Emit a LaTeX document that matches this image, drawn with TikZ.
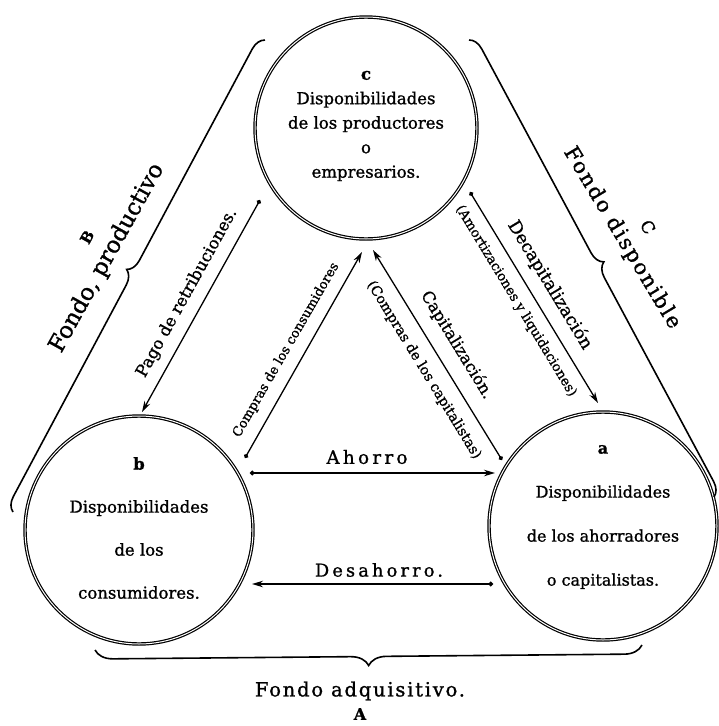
\documentclass[tikz,border=0pt]{standalone}
\usepackage{fontspec}
\usepackage{graphicx}
\setmainfont{DejaVu Serif}[FakeBold=1.1]
\newfontfamily\spaced{DejaVu Serif}[LetterSpace=18,FakeBold=1.1]
\newfontfamily\spacedb{DejaVu Serif}[LetterSpace=9,FakeBold=1.1]
\usetikzlibrary{arrows.meta,decorations.pathreplacing}
\newcommand{\fitw}[2]{\resizebox{#1}{!}{#2}}
\begin{document}
\begin{tikzpicture}[x=1pt,y=-1pt,
  fundo/.style={circle, draw, line width=1.2pt, double, double distance=1pt, minimum size=#1, inner sep=0pt},
  ctext/.style={align=center, inner sep=0pt},
  flow/.style={line width=1.3pt, {Circle[length=4.5pt]}-{Stealth[length=11pt,width=6.5pt,inset=3.5pt]}},
  lab/.style={inner sep=0pt},
  brc/.style={decorate, decoration={brace, amplitude=#1, aspect=0.5}, line width=1.6pt},
]
\useasboundingbox (0,0) rectangle (718,726);
% circles
\node[fundo=222pt] (C) at (366,128) {};
\node[fundo=228pt] (B) at (139,530) {};
\node[fundo=228pt] (A) at (603,526) {};
% circle texts
\node[ctext, font=\fontsize{16.5}{24.5}\selectfont] (ctx) at (366,126)
  {\textbf{c}\\Disponibilidades\\de los productores\\o\\empresarios.};
\node[ctext, font=\fontsize{16.5}{43}\selectfont] (btx) at (139,528)
  {\textbf{b}\\Disponibilidades\\de los\\consumidores.};
\node[ctext, font=\fontsize{16}{44}\selectfont] (atx) at (603,517)
  {\textbf{a}\\Disponibilidades\\de los ahorradores\\o capitalistas.};
% connector end points
\coordinate (p1) at (260,200); \coordinate (p2) at (142,412);
\coordinate (k1) at (245,458); \coordinate (k2) at (362,252);
\coordinate (q1) at (502,460); \coordinate (q2) at (373,250);
\coordinate (d1) at (470,192); \coordinate (d2) at (598,403);
\coordinate (h1) at (250,473); \coordinate (h2) at (495,473);
\coordinate (s1) at (493,584); \coordinate (s2) at (252,584);
\draw[flow] (p1) -- (p2);
\draw[flow] (k1) -- (k2);
\draw[flow] (q1) -- (q2);
\draw[flow] (d1) -- (d2);
\draw[flow] (h1) -- (h2);
\draw[flow] (s1) -- (s2);
% arrow labels
\node[lab, rotate=61] (lp) at (187,293) {\fitw{190pt}{Pago de retribuciones.}};
\node[lab, rotate=60] (lk) at (286,350) {\fitw{199pt}{Compras de los consumidores}};
\node[lab, rotate=-58.5] (lq1) at (457,345) {\fitw{123pt}{Capitalización.}};
\node[lab, rotate=-58.5] (lq2) at (424,370) {\fitw{206pt}{(Compras de los capitalistas)}};
\node[lab, rotate=-58.8] (ld1) at (550,285) {\fitw{147pt}{Decapitalización}};
\node[lab, rotate=-58.8] (ld2) at (516,301) {\fitw{221pt}{(Amortizaciones y liquidaciones)}};
\node[lab] (lh) at (367,457) {\fitw{81pt}{\spaced Ahorro}};
\node[lab] (ls) at (379,570) {\fitw{128pt}{\spaced Desahorro.}};
% braces
\coordinate (bB1) at (13,512); \coordinate (bB2) at (265,40);
\draw[brc=14pt] (bB1) -- (bB2);
\coordinate (bC1) at (469,40); \coordinate (bC2) at (714,497);
\draw[brc=14pt] (bC1) -- (bC2);
\coordinate (bA1) at (642,645); \coordinate (bA2) at (95,650);
\draw[brc=18pt] (bA1) -- (bA2);
% fund labels
\node[lab, rotate=61] (fB) at (107,258) {\fitw{212pt}{Fondo, productivo}};
\node[lab, rotate=61, font=\bfseries\fontsize{15}{15}\selectfont] (fBl) at (87,237) {B};
\node[lab, rotate=-59] (fC) at (622,238) {\fitw{208pt}{\spacedb Fondo disponible}};
\node[lab, rotate=-59, font=\fontsize{17}{17}\selectfont] (fCl) at (648,227) {C};
\node[lab] (fA) at (360,691) {\fitw{210pt}{\spacedb Fondo adquisitivo.}};
\node[lab, font=\bfseries\fontsize{16}{16}\selectfont] (fAl) at (360,714) {A};
\end{tikzpicture}
\end{document}
